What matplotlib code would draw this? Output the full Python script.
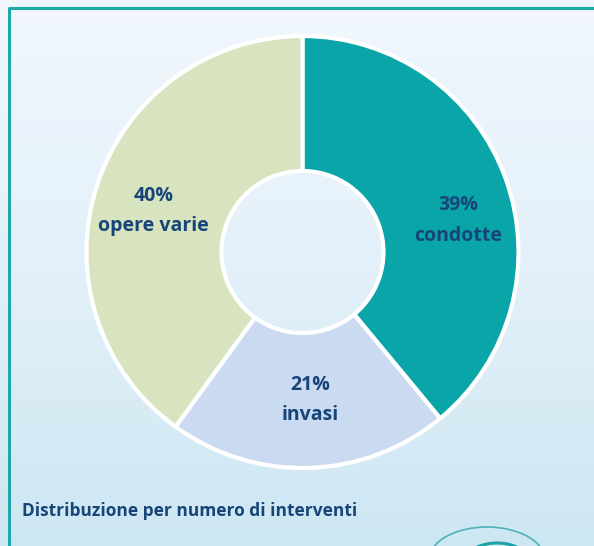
import numpy as np
import matplotlib
matplotlib.use("Agg")
import matplotlib.pyplot as plt
from matplotlib.patches import Arc
from matplotlib.colors import LinearSegmentedColormap

categories = ["condotte", "invasi", "opere varie"]
shares = [39, 21, 40]
colors = ["#09A5A8", "#C9DAF1", "#D8E4C0"]
title_text = "Distribuzione per numero di interventi"

W, H = 594, 546
fig = plt.figure(figsize=(W / 100, H / 100), dpi=100)

# background gradient in pixel coordinates
bg = fig.add_axes([0, 0, 1, 1])
bg.set_xlim(0, W)
bg.set_ylim(H, 0)
bg.axis("off")
cmap = LinearSegmentedColormap.from_list("bg", ["#F1F7FD", "#E3F0F9", "#CDE7F2"])
grad = np.linspace(0, 1, 256).reshape(-1, 1)
bg.imshow(grad, cmap=cmap, extent=[0, W, H, 0], aspect="auto", zorder=0)
# teal frame (right and bottom sides run off the canvas)
bg.plot([8.5, 8.5, W + 5], [H + 5, 7.5, 7.5], color="#1DA9A8", lw=2.2,
         solid_capstyle="butt", zorder=1)
# decorative logo arcs at bottom right
bg.add_patch(Arc((487, 560), 116, 66, theta1=180, theta2=360,
                 color="#4DB3B8", lw=1.2, zorder=2))
bg.add_patch(Arc((497, 566), 70, 46, theta1=200, theta2=340,
                 color="#1FA3A6", lw=2.2, zorder=2))
bg.text(22, 511, title_text, fontsize=12.5, fontweight="bold",
        color="#17457A", family=["Open Sans", "DejaVu Sans"],
        ha="left", va="center", zorder=3)

# donut
cx, cy, r = 302.5, 252, 216
ax = fig.add_axes([(cx - r) / W, (H - cy - r) / H, 2 * r / W, 2 * r / H])
wedges, _ = ax.pie(shares, colors=colors, startangle=90, counterclock=False,
                   radius=1.0,
                   wedgeprops=dict(width=0.625, edgecolor="white", linewidth=3.0))
ax.set_xlim(-1, 1)
ax.set_ylim(-1, 1)
ax.set_aspect("auto")
ax.axis("off")

label_pos = [(0.72, 0.145), (0.035, -0.685), (-0.69, 0.19)]
for cat, val, (lx, ly) in zip(categories, shares, label_pos):
    ax.text(lx, ly, f"{val}%\n{cat}", ha="center", va="center",
            fontsize=14, fontweight="bold", color="#17457A",
            family=["Open Sans", "DejaVu Sans"], linespacing=1.7)

fig.savefig("out.png", dpi=100)
